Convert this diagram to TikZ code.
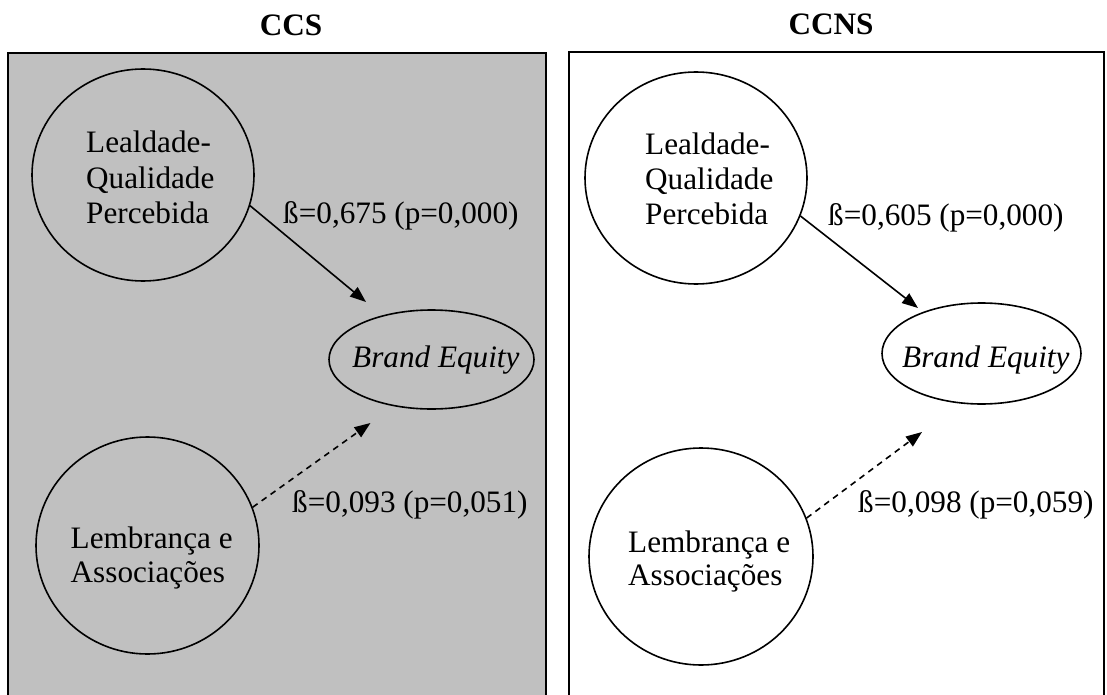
\documentclass[tikz,border=0pt]{standalone}
\usepackage{fontspec}
\setmainfont{Liberation Serif}
\usetikzlibrary{shapes.geometric,arrows.meta}
\definecolor{panelgray}{RGB}{192,192,192}
\begin{document}
\begin{tikzpicture}[x=1pt,y=-1pt,
  panel/.style={draw=black, line width=2pt},
  construct/.style={draw=black, ellipse, line width=1.6pt, inner sep=0pt},
  txt/.style={anchor=base west, inner sep=0pt, font=\fontsize{31.2}{35}\selectfont},
  paneltitle/.style={anchor=base, inner sep=0pt, font=\fontsize{31.2}{35}\selectfont\bfseries},
  causal/.style={line width=1.6pt, -{Triangle[length=16pt,width=12pt]}},
  weak/.style={causal, dash pattern=on 6pt off 5pt},
]
\useasboundingbox (0,0) rectangle (1107,695);
\clip (0,0) rectangle (1107,695);

% titles
\node[paneltitle] (tccs) at (291,36) {CCS};
\node[paneltitle] (tccns) at (831,35) {CCNS};

% panels
\path[panel, fill=panelgray] (7.5,53.5) rectangle (545.5,720);
\path[panel, fill=white] (568.5,52.5) rectangle (1103.5,720);

% ---------- left panel (CCS) ----------
\node[construct, minimum width=222pt, minimum height=212pt] (lqL) at (143,175) {};
\node[construct, minimum width=223pt, minimum height=217pt] (laL) at (147.5,545.5) {};
\node[construct, minimum width=205pt, minimum height=99pt] (beL) at (431.5,359.5) {};

\node[txt] (lqL1) at (86,153) {Lealdade-};
\node[txt] (lqL2) at (86,188) {Qualidade};
\node[txt] (lqL3) at (86,223) {Percebida};
\node[txt] (laL1) at (70.5,548) {Lembrança e};
\node[txt] (laL2) at (70.5,582) {Associações};
\node[txt, font=\fontsize{31.2}{35}\selectfont\itshape] (beLt) at (352,367) {Brand Equity};

\coordinate (tipL1) at (366,302);
\coordinate (tipL2) at (370.5,423);
\draw[causal] (lqL.-16.6) -- (tipL1);
\draw[weak] (laL.20) -- (tipL2);

\node[txt] (bL1) at (283,223) {ß=0,675 (p=0,000)};
\node[txt] (bL2) at (292,512) {ß=0,093 (p=0,051)};

% ---------- right panel (CCNS) ----------
\node[construct, minimum width=222pt, minimum height=212pt] (lqR) at (696,178) {};
\node[construct, minimum width=224pt, minimum height=217pt] (laR) at (701,556.5) {};
\node[construct, minimum width=199pt, minimum height=101pt] (beR) at (981.5,353.5) {};

\node[txt] (lqR1) at (645,155) {Lealdade-};
\node[txt] (lqR2) at (645,189.5) {Qualidade};
\node[txt] (lqR3) at (645,224) {Percebida};
\node[txt] (laR1) at (628,552) {Lembrança e};
\node[txt] (laR2) at (628,585) {Associações};
\node[txt, font=\fontsize{31.2}{35}\selectfont\itshape] (beRt) at (902,367) {Brand Equity};

\coordinate (tipR1) at (918,308);
\coordinate (tipR2) at (922,432);
\draw[causal] (lqR.-20) -- (tipR1);
\draw[weak] (laR.20.7) -- (tipR2);

\node[txt] (bR1) at (828,225) {ß=0,605 (p=0,000)};
\node[txt] (bR2) at (858,512) {ß=0,098 (p=0,059)};
\end{tikzpicture}
\end{document}
